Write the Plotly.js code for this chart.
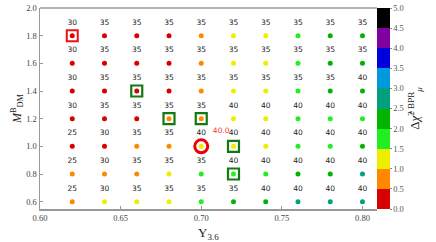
<!DOCTYPE html>
<html><head><meta charset="utf-8">
<script src="https://cdn.plot.ly/plotly-3.0.1.min.js"></script>
<style>html,body{margin:0;padding:0;background:#fff}#chart{width:436px;height:242px}</style>
</head><body><div id="chart"></div>
<script>
// grid of Upsilon_3.6 values (x) and M_DM^B values (y)
const upsilon = [0.62,0.64,0.66,0.68,0.70,0.72,0.74,0.76,0.78,0.80];
const mdm = [0.6,0.8,1.0,1.2,1.4,1.6,1.8];
// labels above each point, rows bottom -> top
const labels = [
  [25,30,35,35,35,35,40,40,40,40],
  [25,30,35,35,35,40,40,40,40,40],
  [25,30,35,35,40,40,40,40,40,40],
  [30,35,35,35,35,40,40,40,40,40],
  [30,35,35,35,35,35,35,35,35,40],
  [30,35,35,35,35,35,35,35,35,35],
  [30,35,35,35,35,35,35,35,35,35]
];
// delta chi^2 values, rows bottom -> top
const dchi = [
  [0.9,1.1,1.2,1.3,1.7,2.1,2.2,2.6,2.7,2.8],
  [0.7,0.8,0.9,1.1,1.6,1.7,1.9,2.1,2.3,2.6],
  [0.3,0.4,0.6,0.8,1.1,1.2,1.4,1.6,1.9,2.1],
  [0.1,0.2,0.4,0.6,0.8,1.1,1.3,1.6,1.8,1.9],
  [0.1,0.2,0.3,0.4,0.7,1.1,1.3,1.7,2.1,2.2],
  [0.1,0.2,0.3,0.4,0.7,1.1,1.4,1.8,2.2,2.3],
  [0.1,0.2,0.3,0.4,0.8,1.2,1.4,1.8,2.2,2.4]
];
// highlighted points
const redSqX = [0.62], redSqY = [1.8];
const greenSqX = [0.66,0.68,0.70,0.72,0.72], greenSqY = [1.4,1.2,1.2,1.0,0.8];
const bestX = [0.70], bestY = [1.0], bestLabel = ['40.0'];
// discrete colour bins 0..5 step 0.5
const binColors = ['#d80000','#ff8800','#eeee00','#22ee22','#00b400','#00a080','#0099dd','#0000dd','#7f009f','#000000'];
const cbTicks = [0,0.5,1,1.5,2,2.5,3,3.5,4,4.5,5];

const colorscale = [];
binColors.forEach((c,i)=>{colorscale.push([i/binColors.length,c]);colorscale.push([(i+1)/binColors.length,c]);});

const px=[],py=[],pc=[],pt=[];
mdm.forEach((y,j)=>upsilon.forEach((x,i)=>{px.push(x);py.push(y);pc.push(dchi[j][i]);pt.push(String(labels[j][i]));}));

const serif = 'Liberation Serif, DejaVu Serif, serif';
const traces = [
  {x:redSqX,y:redSqY,mode:'markers',type:'scatter',hoverinfo:'skip',
   marker:{symbol:'square-open',size:11,line:{width:2,color:'#ee1111'},color:'#ee1111'}},
  {x:greenSqX,y:greenSqY,mode:'markers',type:'scatter',hoverinfo:'skip',
   marker:{symbol:'square-open',size:11,line:{width:2.2,color:'#117a11'},color:'#117a11'}},
  {x:bestX,y:bestY,mode:'markers',type:'scatter',hoverinfo:'skip',
   marker:{symbol:'circle-open',size:13,line:{width:3,color:'#ee0000'},color:'#ee0000'}},
  {x:bestX,y:bestY,mode:'markers+text',type:'scatter',hoverinfo:'skip',text:bestLabel,textposition:'top right',
   textfont:{family:'DejaVu Sans',size:7.5,color:'#ff3333'},
   marker:{size:17,opacity:0,color:'#fff'}},
  {x:px,y:py,mode:'markers+text',type:'scatter',text:pt,textposition:'top center',hoverinfo:'skip',
   textfont:{family:'DejaVu Sans',size:7.5,color:'#222'},
   marker:{size:13,opacity:0,color:'#fff'}},
  {x:px,y:py,mode:'markers',type:'scatter',
   marker:{size:5,color:pc,cmin:0,cmax:5,colorscale:colorscale,showscale:true,
     colorbar:{x:1,xanchor:'left',xpad:0,y:0.5,yanchor:'middle',len:1,lenmode:'fraction',ypad:0,
       thickness:13,outlinewidth:0,tickmode:'array',tickvals:cbTicks,ticktext:cbTicks.map(v=>v.toFixed(1)),
       ticks:'outside',ticklen:2,tickcolor:'#888',tickfont:{family:serif,size:8.5,color:'#555'},
       title:{text:'Δ<i>χ̂</i><sup>2 BPR</sup><sub><i>μ</i></sub>',side:'right',font:{family:serif,size:13,color:'#222'}}}}}
];
const layout = {
  width:436,height:242,margin:{l:40,r:59,t:8,b:33},
  paper_bgcolor:'#fff',plot_bgcolor:'#fff',showlegend:false,
  xaxis:{range:[0.60,0.809],tickvals:[0.60,0.65,0.70,0.75,0.80],ticktext:['0.60','0.65','0.70','0.75','0.80'],
    showgrid:false,zeroline:false,showline:true,linecolor:'#999',linewidth:1.5,mirror:false,
    ticks:'inside',ticklen:3,tickcolor:'#999',tickfont:{family:serif,size:8.5,color:'#444'},
    title:{text:'Υ<sub>3.6</sub>',font:{family:serif,size:13,color:'#222'},standoff:7}},
  yaxis:{range:[0.547,2.0],tickvals:[0.6,0.8,1.0,1.2,1.4,1.6,1.8,2.0],ticktext:['0.6','0.8','1.0','1.2','1.4','1.6','1.8','2.0'],
    showgrid:false,zeroline:false,showline:true,linecolor:'#999',linewidth:1.5,
    ticks:'inside',ticklen:3,tickcolor:'#999',tickfont:{family:serif,size:8.5,color:'#444'},
    title:{text:'<i>M</i><sup>B</sup><sub>DM</sub>',font:{family:serif,size:12,color:'#222'},standoff:2}},
  shapes:[{type:'line',xref:'paper',yref:'paper',x0:0,x1:1,y0:1,y1:1,line:{color:'#999',width:1.5}}]
};
Plotly.newPlot('chart',traces,layout,{displayModeBar:false,staticPlot:true});
</script></body></html>
